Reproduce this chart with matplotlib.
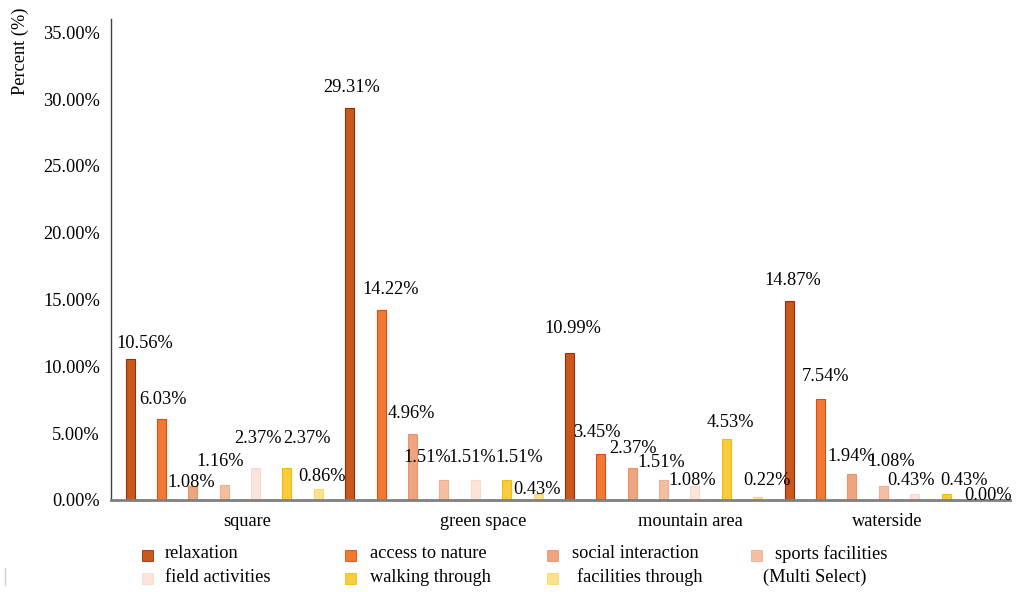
import numpy as np
import matplotlib.pyplot as plt
from matplotlib.patches import Rectangle
from matplotlib.ticker import FuncFormatter

plt.rcParams['font.family'] = ['Liberation Serif', 'DejaVu Serif']

# share of respondents per place and reason (multi select), in percent
places = ['square', 'green space', 'mountain area', 'waterside']
reasons = ['relaxation', 'access to nature', 'social interaction', 'sports facilities',
           'field activities', 'walking through', 'facilities through']

relaxation = [10.56, 29.31, 10.99, 14.87]
access_to_nature = [6.03, 14.22, 3.45, 7.54]
social_interaction = [1.08, 4.96, 2.37, 1.94]
sports_facilities = [1.16, 1.51, 1.51, 1.08]
field_activities = [2.37, 1.51, 1.08, 0.43]
walking_through = [2.37, 1.51, 4.53, 0.43]
facilities_through = [0.86, 0.43, 0.22, 0.00]

series = [relaxation, access_to_nature, social_interaction, sports_facilities,
          field_activities, walking_through, facilities_through]

faces = ['#C8581C', '#F07A32', '#EFA480', '#F4BEA3', '#FCE4DA', '#F8CC40', '#FBE28C']
edges = ['#9E2A0C', '#E2480F', '#E8946A', '#F0B090', '#FAD9CC', '#F2BC00', '#F8D870']

# label nudges in pixels (dx, dy) from the top of each bar, per place
label_nudge = [
    [(15, -15), (2, -20), (-2, -3), (-4, -23), (2, -30), (20, -30), (4, -12)],
    [(1.5, -21), (9.5, -20.5), (-1, -20.5), (-17, -22), (-3.5, -22), (13, -22), (-1, -5)],
    [(3, -25), (-4, -21), (1, -20), (-2, -17), (-2.5, -5.5), (4.5, -17), (9.5, -17)],
    [(4, -21), (5.5, -23), (-1, -18), (8, -24), (-4, -14), (18, -14), (10.5, -4)],
]
cat_shift = [0.533, 0.607, 0.55, 0.445]

W, H = 1021, 592
fs = 13.2
fig = plt.figure(figsize=(W / 100, H / 100), dpi=100)
ax = fig.add_axes([111 / W, 92 / H, 899 / W, 481 / H])

n = len(reasons)
for j, vals in enumerate(series):
    x = np.arange(len(places)) + j / n
    bars = ax.bar(x, vals, width=0.041, color=faces[j], edgecolor=edges[j], linewidth=0.8)
    for i, b in enumerate(bars):
        dx, dy = label_nudge[i][j]
        ax.annotate(f'{vals[i]:.2f}%', (b.get_x() + b.get_width() / 2, vals[i]),
                    xytext=(dx * 0.72, -dy * 0.72), textcoords='offset points',
                    ha='center', va='center', fontsize=fs)

ax.set_xlim(-0.0865, 4.0054)
ax.set_ylim(0, 36)
ax.set_yticks(np.arange(0, 36, 5))
ax.yaxis.set_major_formatter(FuncFormatter(lambda v, p: f'{v:.2f}%'))
ax.set_xticks(np.arange(len(places)) + np.array(cat_shift), places)
ax.tick_params(axis='y', length=0, pad=8, labelsize=fs)
ax.tick_params(axis='x', length=0, pad=9, labelsize=fs)

ax.set_ylabel('Percent (%)', fontsize=fs)
ax.yaxis.label.set_verticalalignment('center')
ax.yaxis.set_label_coords((20 - 111) / 899, (500 - 51) / 481)

for s in ['top', 'right']:
    ax.spines[s].set_visible(False)
ax.spines['left'].set_color('#404040')
ax.spines['left'].set_linewidth(1)
ax.spines['bottom'].set_color('#7F7F7F')
ax.spines['bottom'].set_linewidth(2)

# legend drawn by hand, 4 columns x 2 rows
marker_x = [147, 350, 552, 756]
row_y = [554, 577]
text_x = [[165, 370, 572, 775], [165, 370, 577, 763]]
entries = list(range(n)) + [None]
for k, j in enumerate(entries):
    r, c = divmod(k, 4)
    if j is None:
        label = '(Multi Select)'
    else:
        label = reasons[j]
        mx, my = marker_x[c], row_y[r] + 1
        fig.add_artist(Rectangle(((mx - 5.5) / W, 1 - (my + 5.5) / H), 11 / W, 11 / H,
                                 transform=fig.transFigure, facecolor=faces[j],
                                 edgecolor=edges[j], linewidth=0.6))
    fig.text(text_x[r][c] / W, 1 - row_y[r] / H, label, ha='left', va='center', fontsize=fs)

fig.add_artist(plt.Line2D([5 / W, 5 / W], [1 - 568 / H, 1 - 585 / H],
                          transform=fig.transFigure, color='#D0D0D0', linewidth=1))

fig.savefig('out.png', dpi=100)
